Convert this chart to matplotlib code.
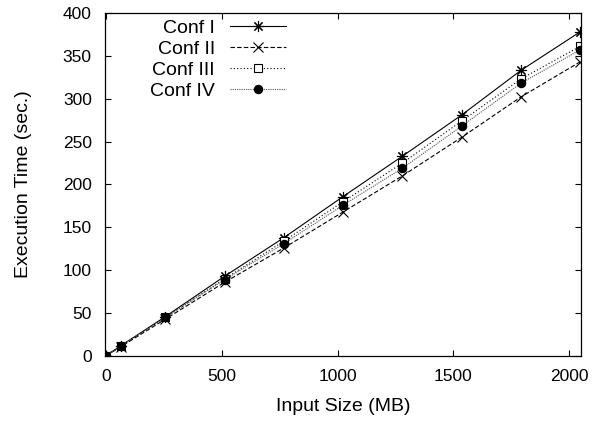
import matplotlib
matplotlib.use("Agg")
import matplotlib.pyplot as plt

sizes = [1, 64, 256, 512, 768, 1024, 1280, 1536, 1792, 2048]
conf1 = [0.5, 12, 46, 93, 138, 186, 233, 281, 333, 378]
conf2 = [0.5, 11, 43, 86, 126, 168, 210, 255, 302, 343]
conf3 = [0.5, 12, 45, 90, 134, 180, 225, 274, 323, 361]
conf4 = [0.5, 12, 45, 89, 131, 176, 219, 268, 318, 357]
labels = ["Conf I", "Conf II", "Conf III", "Conf IV"]

plt.rcParams['font.family'] = ['Liberation Sans', 'DejaVu Sans']

fig = plt.figure(figsize=(6.05, 4.23), dpi=100)
ax = fig.add_axes([105/605, 1-356/423, (581-105)/605, (356-13)/423])

lw = 0.8
ax.plot(sizes, conf1, color='black', lw=lw, ls='-', marker=(8, 2, 0), ms=8,
        mew=0.8, label=labels[0])
ax.plot(sizes, conf2, color='black', lw=lw, ls=(0, (4, 2)), marker='x', ms=7,
        mew=0.8, label=labels[1])
ax.plot(sizes, conf3, color='black', lw=lw, ls=(0, (1, 2)), marker='s', ms=6,
        mew=0.8, mfc='white', label=labels[2])
ax.plot(sizes, conf4, color='#555555', lw=lw, ls=(0, (1, 1)), marker='o', ms=6,
        mew=0.8, mfc='black', mec='black', label=labels[3])

ax.set_xlim(-5, 2052)
ax.set_ylim(0, 400)
ax.set_xticks([0, 500, 1000, 1500, 2000])
ax.set_yticks(range(0, 401, 50))
ax.tick_params(direction='in', top=True, right=True, length=4, width=0.8,
               labelsize=12.5, pad=9.5)
for s in ax.spines.values():
    s.set_linewidth(0.9)

ax.set_xlabel("Input Size (MB)", fontsize=14, labelpad=10)
ax.set_ylabel("Execution Time (sec.)", fontsize=14, labelpad=22)

leg = ax.legend(loc='upper left', bbox_to_anchor=(150/605, 1-19/423),
                bbox_transform=fig.transFigure, frameon=False, markerfirst=False,
                fontsize=14, handlelength=2.85, handletextpad=0.8,
                labelspacing=0.18, borderpad=0, borderaxespad=0)
for t in leg.get_texts():
    t.set_ha('right')

fig.savefig("out.png", dpi=100)
